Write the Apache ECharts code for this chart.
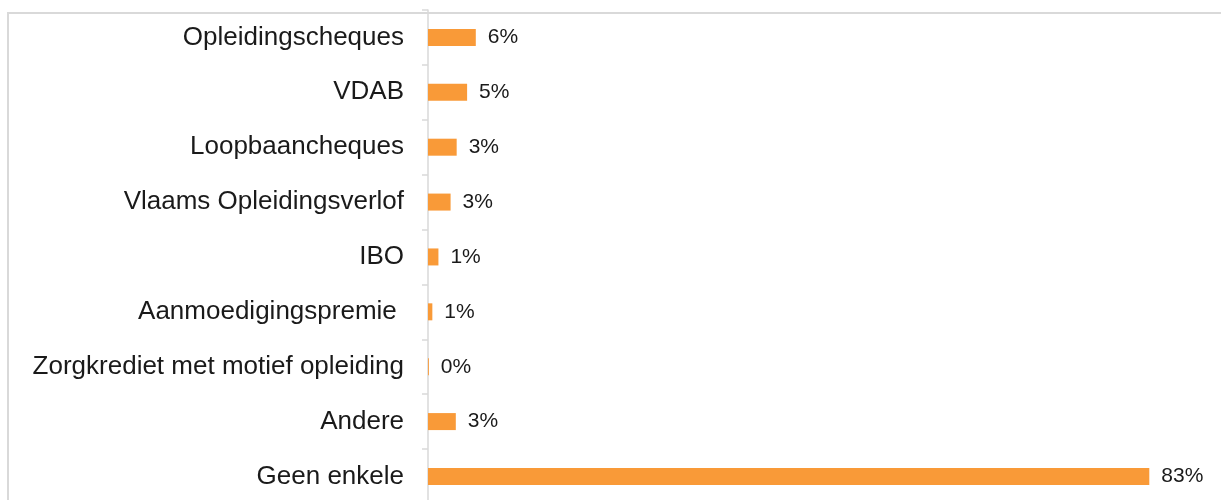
<!DOCTYPE html>
<html>
<head>
<meta charset="utf-8">
<script src="https://cdn.jsdelivr.net/npm/echarts@6/dist/echarts.min.js"></script>
<style>html,body{margin:0;padding:0;background:#fff;overflow:hidden;}#c{width:1221px;height:520px;}</style>
</head>
<body>
<div id="c"></div>
<script>
const categories = ["Opleidingscheques","VDAB","Loopbaancheques","Vlaams Opleidingsverlof","IBO","Aanmoedigingspremie ","Zorgkrediet met motief opleiding","Andere","Geen enkele"];
const values = [5.5, 4.5, 3.3, 2.6, 1.2, 0.5, 0.1, 3.2, 83];

const chart = echarts.init(document.getElementById('c'), null, {renderer:'canvas'});
chart.setOption({
  animation:false,
  backgroundColor:'#fff',
  graphic:[{type:'rect',shape:{x:8,y:13,width:1400,height:700},style:{fill:'none',stroke:'#d9d9d9',lineWidth:2},z:-1}],
  grid:{left:428,top:10,right:0,height:493.9,containLabel:false},
  xAxis:{type:'value',min:0,max:91.25,show:false},
  yAxis:{type:'category',data:categories,inverse:true,
    axisLine:{lineStyle:{color:'#d9d9d9',width:1.5}},
    axisTick:{show:true,length:6,lineStyle:{color:'#d9d9d9',width:1.5}},
    axisLabel:{margin:24,color:'#1a1a1a',fontSize:26,fontFamily:'Liberation Sans',padding:[5,0,0,0]}},
  series:[{type:'bar',data:values,barWidth:17,itemStyle:{color:'#F99A38'},
    label:{show:true,position:'right',distance:12,color:'#1a1a1a',fontSize:21,fontFamily:'Liberation Sans',padding:[3,0,0,0],
      formatter:p=>Math.round(p.value)+'%'}}]
});
</script>
</body>
</html>
